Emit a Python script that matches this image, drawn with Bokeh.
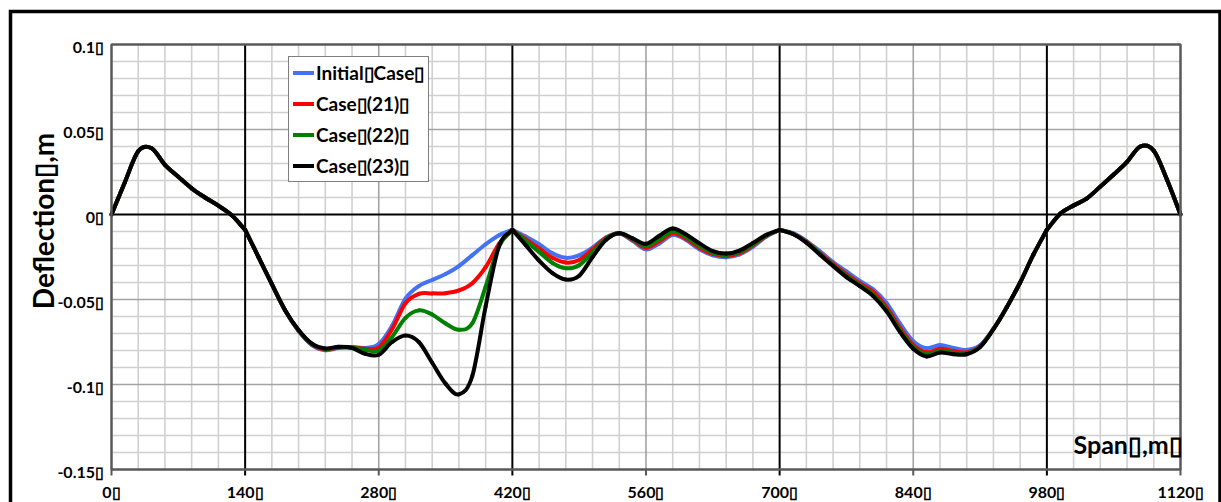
import numpy as np
from bokeh.plotting import figure
from bokeh.models import Range1d, Legend, LegendItem
from bokeh.core.properties import value
from bokeh.embed import file_html
from bokeh.resources import INLINE

# ---------------------------------------------------------------- data
# stations along the bridge (m)
span_m = list(range(0, 1121, 14))

initial_case = [
    0.0, 0.019, 0.0372, 0.039, 0.0292, 0.0222, 0.0154, 0.010, 0.0052, -0.0005, -0.009,
    -0.025, -0.041, -0.0565, -0.0685, -0.0768, -0.0798, -0.0785, -0.078, -0.0785, -0.0762,
    -0.0654, -0.0495, -0.0421, -0.0385, -0.035, -0.0303, -0.0239, -0.0175, -0.0122, -0.009,
    -0.013, -0.0175, -0.0228, -0.0255, -0.024, -0.0195, -0.0135, -0.011, -0.0155, -0.0205,
    -0.017, -0.012, -0.015, -0.0205, -0.024, -0.0252, -0.0235, -0.019, -0.013, -0.009,
    -0.011, -0.0155, -0.0215, -0.028, -0.0335, -0.039, -0.044, -0.052, -0.064, -0.0745,
    -0.0787, -0.0768, -0.0785, -0.0797, -0.077, -0.0672, -0.0545, -0.040, -0.0235, -0.009,
    0.0005, 0.0053, 0.0095, 0.0164, 0.0235, 0.031, 0.040, 0.0375, 0.0203, 0.0,
]
case_21 = [
    0.0, 0.019, 0.0372, 0.039, 0.0292, 0.0222, 0.0154, 0.010, 0.0052, -0.0005, -0.009,
    -0.025, -0.041, -0.0565, -0.0683, -0.0765, -0.0795, -0.0783, -0.0781, -0.079, -0.0782,
    -0.0674, -0.0522, -0.0467, -0.0464, -0.0463, -0.0447, -0.0404, -0.031, -0.0173, -0.009,
    -0.0145, -0.020, -0.0255, -0.0283, -0.0268, -0.0205, -0.0138, -0.011, -0.015, -0.0195,
    -0.0158, -0.011, -0.0142, -0.0195, -0.0232, -0.0245, -0.0228, -0.0182, -0.0127, -0.009,
    -0.0112, -0.016, -0.0225, -0.029, -0.035, -0.0405, -0.0455, -0.0545, -0.0665, -0.0768,
    -0.081, -0.079, -0.0803, -0.081, -0.0775, -0.0673, -0.0545, -0.040, -0.0235, -0.009,
    0.0005, 0.0053, 0.0095, 0.0164, 0.0235, 0.031, 0.040, 0.0375, 0.0203, 0.0,
]
case_22 = [
    0.0, 0.019, 0.0372, 0.039, 0.0292, 0.0222, 0.0154, 0.010, 0.0052, -0.0005, -0.009,
    -0.025, -0.041, -0.0565, -0.0682, -0.0763, -0.0792, -0.078, -0.0782, -0.0797, -0.080,
    -0.072, -0.0608, -0.0564, -0.0588, -0.0641, -0.0678, -0.064, -0.0425, -0.0187, -0.009,
    -0.0155, -0.022, -0.0285, -0.0316, -0.0298, -0.0222, -0.0142, -0.011, -0.0145, -0.0185,
    -0.0145, -0.0098, -0.0132, -0.0185, -0.0225, -0.0238, -0.022, -0.0176, -0.0124, -0.009,
    -0.0114, -0.0163, -0.023, -0.0297, -0.036, -0.0414, -0.047, -0.056, -0.068, -0.078,
    -0.0823, -0.0801, -0.0813, -0.0816, -0.0778, -0.0674, -0.0545, -0.040, -0.0235, -0.009,
    0.0005, 0.0053, 0.0095, 0.0164, 0.0235, 0.031, 0.040, 0.0375, 0.0203, 0.0,
]
case_23 = [
    0.0, 0.019, 0.0372, 0.039, 0.0292, 0.0222, 0.0154, 0.010, 0.0052, -0.0005, -0.009,
    -0.025, -0.041, -0.0565, -0.068, -0.076, -0.0788, -0.0778, -0.0785, -0.082, -0.0825,
    -0.075, -0.0712, -0.075, -0.0872, -0.0995, -0.1058, -0.095, -0.054, -0.0186, -0.009,
    -0.018, -0.0272, -0.0345, -0.0383, -0.036, -0.025, -0.015, -0.011, -0.014, -0.0172,
    -0.0125, -0.0082, -0.0118, -0.017, -0.0215, -0.023, -0.0212, -0.0168, -0.012, -0.009,
    -0.0115, -0.0165, -0.0235, -0.0303, -0.0368, -0.0422, -0.048, -0.057, -0.069, -0.079,
    -0.0835, -0.0812, -0.0822, -0.0822, -0.078, -0.0675, -0.0545, -0.040, -0.0235, -0.009,
    0.0005, 0.0053, 0.0095, 0.0164, 0.0235, 0.031, 0.040, 0.0375, 0.0203, 0.0,
]

series_values = [initial_case, case_21, case_22, case_23]
series_labels = ["Initial\u25afCase\u25af", "Case\u25af(21)\u25af", "Case\u25af(22)\u25af", "Case\u25af(23)\u25af"]
series_colors = ["#4472F4", "#FF0000", "#008000", "#000000"]

supports_m = [140, 420, 700, 980]
x_ticks = [0, 140, 280, 420, 560, 700, 840, 980, 1120]
x_tick_labels = ["0\u25af", "140\u25af", "280\u25af", "420\u25af", "560\u25af",
                 "700\u25af", "840\u25af", "980\u25af", "1120\u25af"]
y_ticks = [0.1, 0.05, 0.0, -0.05, -0.1, -0.15]
y_tick_labels = ["0.1\u25af", "0.05\u25af", "0\u25af", "-0.05\u25af", "-0.1\u25af", "-0.15\u25af"]
x_title = "Span\u25af,m\u25af"
y_title = "Deflection\u25af,m"

# ---------------------------------------------------------------- layout
W, H = 1221, 502
X_MIN, X_MAX = 0, 1120
Y_MIN, Y_MAX = -0.15, 0.1
X_MINOR, Y_MINOR = 28, 0.01
BOX_L, BOX_R, BOX_T, BOX_B = 111, 1180, 44, 469     # plot area on the page (px)

kx = (BOX_R - BOX_L) / (X_MAX - X_MIN)
ky = (BOX_B - BOX_T) / (Y_MAX - Y_MIN)
x_range = Range1d(X_MIN - BOX_L / kx, X_MAX + (W - BOX_R) / kx)
y_range = Range1d(Y_MIN - (H - BOX_B) / ky, Y_MAX + BOX_T / ky)


def xpx(px):
    return x_range.start + px / kx


def ypx(py):
    return y_range.end - py / ky


FONT = value("Lato")

p = figure(width=W, height=H, x_range=x_range, y_range=y_range,
           x_axis_location=None, y_axis_location=None,
           toolbar_location=None, output_backend="svg",
           min_border=0, outline_line_color=None,
           background_fill_color="white", border_fill_color="white")
p.grid.visible = False

# ---------------------------------------------------------------- grid
v_minor = [x for x in range(X_MIN, X_MAX + 1, X_MINOR) if x % 140]
p.segment(x0=v_minor, y0=Y_MIN, x1=v_minor, y1=Y_MAX, line_color="#d0d0d0", line_width=1.6)

n_h = int(round((Y_MAX - Y_MIN) / Y_MINOR))
h_all = [round(Y_MIN + i * Y_MINOR, 3) for i in range(n_h + 1)]
h_minor = [y for y in h_all if round(y * 100) % 5]
p.segment(x0=X_MIN, y0=h_minor, x1=X_MAX, y1=h_minor, line_color="#d0d0d0", line_width=1.6)

v_major = [t for t in x_ticks if t not in supports_m and X_MIN < t < X_MAX]
p.segment(x0=v_major, y0=Y_MIN, x1=v_major, y1=Y_MAX, line_color="#a3a3a3", line_width=1.6)
h_major = [t for t in y_ticks if t != 0 and Y_MIN < t < Y_MAX]
p.segment(x0=X_MIN, y0=h_major, x1=X_MAX, y1=h_major, line_color="#a3a3a3", line_width=1.6)

# zero line and support verticals
p.segment(x0=X_MIN, y0=0, x1=X_MAX, y1=0, line_color="black", line_width=2)
p.segment(x0=supports_m, y0=ypx(BOX_B + 6), x1=supports_m, y1=Y_MAX,
          line_color="black", line_width=2)


# ---------------------------------------------------------------- curves
def smooth_pieces(xs, ys, joints):
    """Catmull-Rom pieces as cubic Bezier segments, kinked at the joints."""
    xs = np.asarray(xs, float)
    ys = np.asarray(ys, float)
    n = len(xs)
    kink = np.isin(xs, joints)
    seg = {k: [] for k in ("x0", "y0", "x1", "y1", "cx0", "cy0", "cx1", "cy1")}
    for i in range(n - 1):
        if i == 0 or kink[i]:
            tx0, ty0 = (xs[i + 1] - xs[i]) / 3, (ys[i + 1] - ys[i]) / 3
        else:
            tx0, ty0 = (xs[i + 1] - xs[i - 1]) / 6, (ys[i + 1] - ys[i - 1]) / 6
        if i + 2 >= n or kink[i + 1]:
            tx1, ty1 = (xs[i + 1] - xs[i]) / 3, (ys[i + 1] - ys[i]) / 3
        else:
            tx1, ty1 = (xs[i + 2] - xs[i]) / 6, (ys[i + 2] - ys[i]) / 6
        seg["x0"].append(xs[i]); seg["y0"].append(ys[i])
        seg["x1"].append(xs[i + 1]); seg["y1"].append(ys[i + 1])
        seg["cx0"].append(xs[i] + tx0); seg["cy0"].append(ys[i] + ty0)
        seg["cx1"].append(xs[i + 1] - tx1); seg["cy1"].append(ys[i + 1] - ty1)
    return seg


renderers = []
for vals, col in zip(series_values, series_colors):
    r = p.bezier(**smooth_pieces(span_m, vals, supports_m),
                 line_color=col, line_width=4, line_cap="round")
    renderers.append(r)

# ---------------------------------------------------------------- plot box, ticks
p.quad(left=X_MIN, right=X_MAX, bottom=Y_MIN, top=Y_MAX,
       fill_color=None, line_color="#595959", line_width=2.5)
tick_x = [t for t in x_ticks if t not in supports_m]
p.segment(x0=tick_x, y0=Y_MIN, x1=tick_x, y1=ypx(BOX_B + 6),
          line_color="#595959", line_width=2)

# ---------------------------------------------------------------- texts
p.text(x=[xpx(103.5)] * len(y_ticks), y=[t - 2.0 / ky for t in y_ticks], text=y_tick_labels,
       text_font=FONT, text_font_style="bold", text_font_size=value("16px"),
       text_align="right", text_baseline="middle", text_color="black")
p.text(x=x_ticks, y=[ypx(491)] * len(x_ticks), text=x_tick_labels,
       text_font=FONT, text_font_style="bold", text_font_size=value("16px"),
       text_align="center", text_baseline="middle", text_color="black")
p.text(x=[xpx(42)], y=[ypx(220.5)], text=[y_title], angle=np.pi / 2,
       text_font=FONT, text_font_style="bold", text_font_size=value("28px"),
       text_align="center", text_baseline="middle", text_color="black")
p.text(x=[xpx(1073)], y=[ypx(443)], text=[x_title],
       text_font=FONT, text_font_style="bold", text_font_size=value("25px"),
       text_align="left", text_baseline="middle", text_color="black")

# ---------------------------------------------------------------- outer frame
p.line(x=[xpx(10), xpx(10), xpx(1219.5), xpx(1219.5)],
       y=[ypx(H + 20), ypx(11), ypx(11), ypx(H + 20)],
       line_color="black", line_width=3.5, line_join="miter")

# ---------------------------------------------------------------- legend
legend = Legend(
    items=[LegendItem(label=value(lab), renderers=[r]) for lab, r in zip(series_labels, renderers)],
    location=(288, H - 182), orientation="vertical",
    glyph_width=21, glyph_height=23, label_height=23, label_standoff=2,
    spacing=8, padding=4, margin=0,
    border_line_color="black", border_line_width=1,
    background_fill_color="white", background_fill_alpha=1.0,
    label_text_font="Lato", label_text_font_style="bold",
    label_text_font_size="19px", label_text_color="black",
)
p.add_layout(legend)

open("out.html", "w").write(file_html(p, INLINE))
